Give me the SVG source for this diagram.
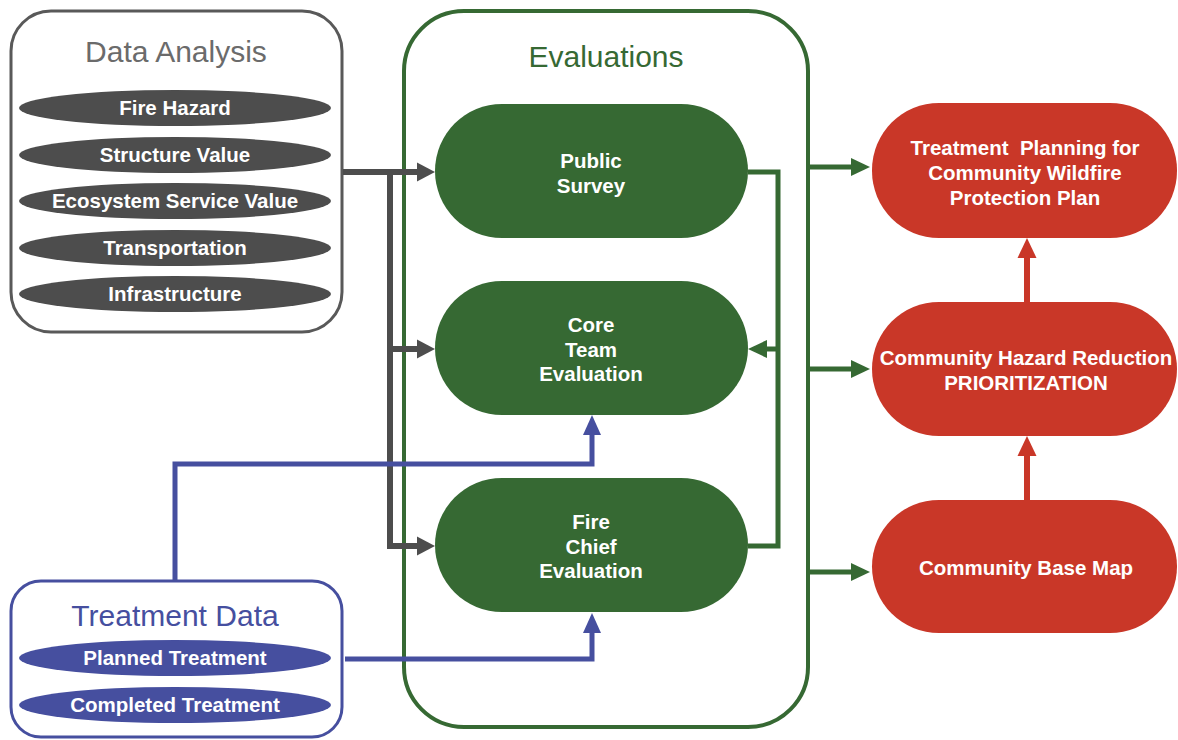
<svg xmlns="http://www.w3.org/2000/svg" width="1178" height="740" viewBox="0 0 1178 740">
<style>
text{font-family:"Liberation Sans",Arial,sans-serif;text-anchor:middle}
.title{font-size:30px}
.lbl{font-size:20.5px;font-weight:bold;fill:#fff}
.gray{fill:#4d4d4d}
.blue{fill:#464f9f}
.green{fill:#366933}
.red{fill:#c93728}
.cg{fill:none;stroke:#4d4d4d;stroke-width:6}
.cgr{fill:none;stroke:#366933;stroke-width:5}
.cb{fill:none;stroke:#464f9f;stroke-width:5}
.cr{fill:none;stroke:#c93728;stroke-width:6}
</style>
<defs>
<marker id="ag" markerUnits="userSpaceOnUse" markerWidth="19" markerHeight="20" refX="0" refY="10" orient="auto"><path d="M0,0.5 L18,10 L0,19.5 z" fill="#4d4d4d"/></marker>
<marker id="agr" markerUnits="userSpaceOnUse" markerWidth="20" markerHeight="20" refX="0" refY="10" orient="auto"><path d="M0,1 L19,10 L0,19 z" fill="#366933"/></marker>
<marker id="ab" markerUnits="userSpaceOnUse" markerWidth="20" markerHeight="20" refX="0" refY="10" orient="auto"><path d="M0,1 L20,10 L0,19 z" fill="#464f9f"/></marker>
<marker id="ar" markerUnits="userSpaceOnUse" markerWidth="20" markerHeight="20" refX="0" refY="10" orient="auto"><path d="M0,0.5 L20,10 L0,19.5 z" fill="#c93728"/></marker>
</defs>

<g id="data-analysis">
<rect x="11" y="11" width="331" height="321" rx="40" fill="#fff" stroke="#595959" stroke-width="3"/>
<text class="title" x="176" y="62" fill="#6b6b6b">Data Analysis</text>
<ellipse class="gray" cx="175" cy="108" rx="156" ry="18"/>
<text class="lbl" x="175" y="115">Fire Hazard</text>
<ellipse class="gray" cx="175" cy="155" rx="156" ry="18"/>
<text class="lbl" x="175" y="162">Structure Value</text>
<ellipse class="gray" cx="175" cy="201" rx="156" ry="18"/>
<text class="lbl" x="175" y="208">Ecosystem Service Value</text>
<ellipse class="gray" cx="175" cy="248" rx="156" ry="18"/>
<text class="lbl" x="175" y="255">Transportation</text>
<ellipse class="gray" cx="175" cy="294" rx="156" ry="18"/>
<text class="lbl" x="175" y="301">Infrastructure</text>
</g>

<g id="treatment-data">
<rect x="11" y="581" width="331" height="156" rx="30" fill="#fff" stroke="#464f9f" stroke-width="3"/>
<text class="title" x="175" y="626" fill="#464f9f">Treatment Data</text>
<ellipse class="blue" cx="175" cy="658" rx="156" ry="18"/>
<text class="lbl" x="175" y="665">Planned Treatment</text>
<ellipse class="blue" cx="175" cy="705" rx="156" ry="18"/>
<text class="lbl" x="175" y="712">Completed Treatment</text>
</g>

<g id="evaluations">
<rect x="404" y="11" width="404" height="716" rx="60" fill="#fff" stroke="#366933" stroke-width="4"/>
<text class="title" x="606" y="67" fill="#366933">Evaluations</text>
</g>

<g id="public-survey">
<rect class="green" x="435" y="104" width="313" height="134" rx="67"/>
<text class="lbl" x="591" y="168">Public</text>
<text class="lbl" x="591" y="193">Survey</text>
</g>
<g id="core-team">
<rect class="green" x="435" y="281" width="313" height="134" rx="67"/>
<text class="lbl" x="591" y="332">Core</text>
<text class="lbl" x="591" y="357">Team</text>
<text class="lbl" x="591" y="381">Evaluation</text>
</g>
<g id="fire-chief">
<rect class="green" x="435" y="478" width="313" height="134" rx="67"/>
<text class="lbl" x="591" y="529">Fire</text>
<text class="lbl" x="591" y="554">Chief</text>
<text class="lbl" x="591" y="578">Evaluation</text>
</g>

<g id="treatment-planning">
<rect class="red" x="872" y="103" width="305" height="135" rx="67"/>
<text class="lbl" x="1025" y="155" style="white-space:pre">Treatment  Planning for</text>
<text class="lbl" x="1025" y="180">Community Wildfire</text>
<text class="lbl" x="1025" y="205">Protection Plan</text>
</g>
<g id="hazard-reduction">
<rect class="red" x="872" y="302" width="305" height="134" rx="67"/>
<text class="lbl" x="1026" y="365">Community Hazard Reduction</text>
<text class="lbl" x="1026" y="390">PRIORITIZATION</text>
</g>
<g id="base-map">
<rect class="red" x="872" y="500" width="305" height="133" rx="67"/>
<text class="lbl" x="1026" y="575">Community Base Map</text>
</g>

<g id="connectors">
<path class="cg" d="M343,172 H417" marker-end="url(#ag)"/>
<path class="cg" d="M390,172 V546 H417" marker-end="url(#ag)"/>
<path class="cg" d="M390,349 H417" marker-end="url(#ag)"/>
<path class="cgr" d="M748,172 H778 V546 H748"/>
<path class="cgr" d="M778,349 H767" marker-end="url(#agr)"/>
<path class="cgr" d="M808,167 H851" marker-end="url(#agr)"/>
<path class="cgr" d="M808,369 H851" marker-end="url(#agr)"/>
<path class="cgr" d="M808,572 H851" marker-end="url(#agr)"/>
<path class="cb" d="M175,581 V464 H592 V435" marker-end="url(#ab)"/>
<path class="cb" d="M345,659 H592 V633" marker-end="url(#ab)"/>
<path class="cr" d="M1027,500 V456" marker-end="url(#ar)"/>
<path class="cr" d="M1027,302 V258" marker-end="url(#ar)"/>
</g>
</svg>
